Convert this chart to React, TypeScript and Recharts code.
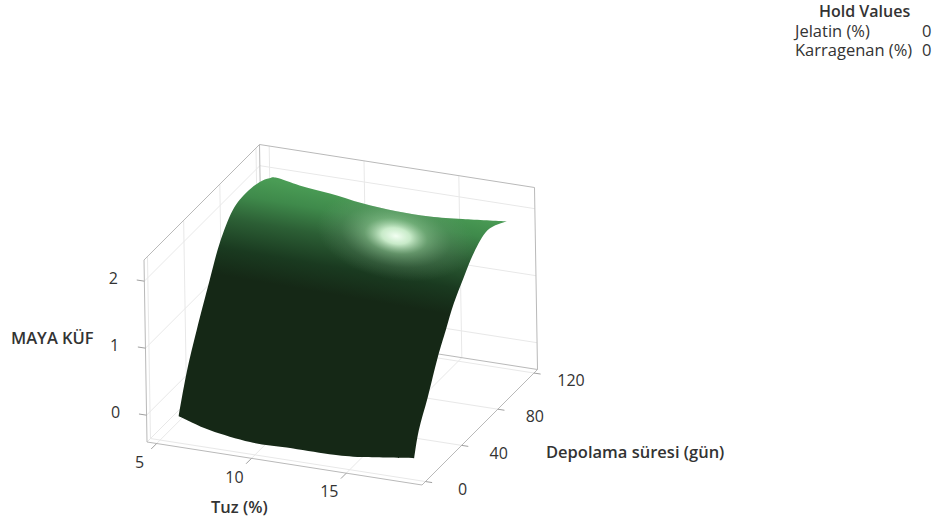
import { ScatterChart, Scatter, XAxis, YAxis } from "recharts";

// axis ticks
const tuzTicks = [5, 10, 15];
const dayTicks = [0, 40, 80, 120];
const zTicks = [0, 1, 2];

// box extents
const tuzRange = [4.49, 18.99];
const dayRange = [-3.83, 123.9];
const zRange = [-0.4, 2.316];

// surface outline (tuz, days, maya kuf)
const leftDays = [0, 9.6, 21.2, 36.2, 47.8, 62.5, 78, 92, 103, 111];
const leftZ = [0, 0.53, 1.0, 1.545, 1.94, 2.23, 2.29, 2.25, 2.16, 2.06];
const topTuz = [7.2, 8.8, 10.5, 12.3, 14.06, 15.8];
const topZ = [2.0, 1.95, 1.88, 1.84, 1.84, 1.88];
const rightDays = [111.5, 90.6, 75, 63.7, 52.3, 43.2, 34, 22.4, 12, 6.4];
const rightZ = [1.94, 2.09, 1.96, 1.75, 1.51, 1.24, 0.96, 0.52, 0.165, -0.177];
const frontTuz = [15.5, 13.8, 11.6, 9.7, 7.65];
const frontDays = [3.9, 2.8, 1.7, 1.1, 0];
const frontZ = [-0.242, -0.259, -0.243, -0.237, -0.137];

const edgeTuz = [6, 18.1];

const holdLabels = ["Jelatin (%)", "Karragenan (%)"];
const holdValues = [0, 0];

// fixed view of the box, nearly affine
function project(tuz: number, days: number, z: number) {
  const u = (tuz - tuzRange[0]) / (tuzRange[1] - tuzRange[0]);
  const v = (days - dayRange[0]) / (dayRange[1] - dayRange[0]);
  const w = (z - zRange[0]) / (zRange[1] - zRange[0]);
  return { x: 147 + 275 * u + 115.5 * v - 3 * w, y: 442 + 43 * u - 115.5 * v - 182 * w };
}

const [tMin, tMax] = tuzRange;
const [dMin, dMax] = dayRange;
const [zMin, zMax] = zRange;

const seg = (a: number[], b: number[]) => [project(a[0], a[1], a[2]), project(b[0], b[1], b[2])];

const gridLines = [
  ...zTicks.map((z) => seg([tMin, dMin, z], [tMin, dMax, z])),
  ...zTicks.map((z) => seg([tMin, dMax, z], [tMax, dMax, z])),
  ...dayTicks.map((d) => seg([tMin, d, zMin], [tMin, d, zMax])),
  ...tuzTicks.map((t) => seg([t, dMax, zMin], [t, dMax, zMax])),
  ...tuzTicks.map((t) => seg([t, dMin, zMin], [t, dMax, zMin])),
  ...dayTicks.map((d) => seg([tMin, d, zMin], [tMax, d, zMin])),
  seg([tMin, dMin, zMin], [tMin, dMax, zMin]),
];

const frameLines = [
  seg([tMin, dMin, zMin], [tMin, dMin, zMax]),
  seg([tMin, dMin, zMax], [tMin, dMax, zMax]),
  seg([tMin, dMax, zMax], [tMax, dMax, zMax]),
  seg([tMax, dMax, zMax], [tMax, dMax, zMin]),
  seg([tMin, dMax, zMax], [tMin, dMax, zMin]),
  seg([tMin, dMin, zMin], [tMax, dMin, zMin]),
  seg([tMax, dMin, zMin], [tMax, dMax, zMin]),
  seg([tMin, dMax, zMin], [tMax, dMax, zMin]),
];

const tickLines = [
  ...zTicks.map((z) => seg([tMin, dMin, z], [tMin - 0.4, dMin, z])),
  ...tuzTicks.map((t) => seg([t, dMin, zMin], [t, dMin - 6, zMin])),
  ...dayTicks.map((d) => seg([tMax, d, zMin], [tMax + 0.35, d, zMin])),
];

const leftEdge = leftDays.map((d, i) => project(edgeTuz[0], d, leftZ[i]));
const topEdge = topTuz.map((t, i) => project(t, 111, topZ[i]));
const rightEdge = rightDays.map((d, i) => project(edgeTuz[1], d, rightZ[i]));
const frontEdge = frontTuz.map((t, i) => project(t, frontDays[i], frontZ[i]));
const outline = [...leftEdge, ...topEdge, ...rightEdge, ...frontEdge];

// where the sharp corners of the outline sit: tip on the right, bottom right, and back to start
const cornerIdx = [leftEdge.length + topEdge.length, leftEdge.length + topEdge.length + rightEdge.length - 1];

const tickLabels = [
  ...zTicks.map((z) => ({ ...project(tMin, dMin, z), label: String(z), dx: -31, dy: -1 })),
  ...tuzTicks.map((t) => ({ ...project(t, dMin, zMin), label: String(t), dx: -17, dy: 20 })),
  ...dayTicks.map((d) => ({ ...project(tMax, d, zMin), label: String(d), dx: 37, dy: 9 })),
];

const noMark = () => <g />;
const tickText = (p: any) => (
  <text x={p.cx + p.payload.dx} y={p.cy + p.payload.dy} textAnchor="middle" dominantBaseline="middle" fontSize={16} fontFamily="'Open Sans'" fill="#333">
    {p.payload.label}
  </text>
);

// smooth the outline between its corners (catmull-rom through the read points)
function smoothPath(pts: { x: number; y: number }[]) {
  const runs = [pts.slice(0, cornerIdx[0] + 1), pts.slice(cornerIdx[0], cornerIdx[1] + 1), [...pts.slice(cornerIdx[1]), pts[0]]];
  let d = `M${pts[0].x},${pts[0].y}`;
  // first run starts at pts[0]; reorder so path walks start -> tip -> bottom right -> start
  runs.forEach((r) => {
    for (let i = 0; i < r.length - 1; i++) {
      const p0 = r[i - 1] ?? r[i];
      const p1 = r[i];
      const p2 = r[i + 1];
      const p3 = r[i + 2] ?? p2;
      d += `C${p1.x + (p2.x - p0.x) / 6},${p1.y + (p2.y - p0.y) / 6} ${p2.x - (p3.x - p1.x) / 6},${p2.y - (p3.y - p1.y) / 6} ${p2.x},${p2.y}`;
    }
  });
  return d + "Z";
}

const surfaceLine = (fill: string) => (props: any) => <path d={smoothPath(props.points)} fill={fill} stroke="none" />;

const titleStyle: React.CSSProperties = { position: "absolute", whiteSpace: "nowrap", fontFamily: "'Open Sans'", fontWeight: 600, fontSize: 16.5, color: "#333", lineHeight: "20px" };
const holdStyle: React.CSSProperties = { ...titleStyle, fontWeight: 400, fontSize: 16.5 };

export default function App() {
  return (
    <div style={{ position: "absolute", left: 0, top: 0, width: 939, height: 520, background: "#fff" }}>
      <ScatterChart width={939} height={520} margin={{ top: 0, right: 0, bottom: 0, left: 0 }}>
        <defs>
          <linearGradient id="surfaceFill" gradientUnits="userSpaceOnUse" x1={300} y1={185} x2={249} y2={481}>
            <stop offset="0" stopColor="#4a9c55" />
            <stop offset="0.067" stopColor="#3f8a4b" />
            <stop offset="0.15" stopColor="#2c5f35" />
            <stop offset="0.25" stopColor="#1a3a20" />
            <stop offset="0.34" stopColor="#152816" />
            <stop offset="1" stopColor="#152816" />
          </linearGradient>
          <radialGradient id="surfaceGlow" gradientUnits="userSpaceOnUse" cx={0} cy={0} r={1} gradientTransform="translate(396 236) rotate(10) scale(80 44)">
            <stop offset="0" stopColor="#f2fff2" stopOpacity={1} />
            <stop offset="0.18" stopColor="#d5f5d5" stopOpacity={0.92} />
            <stop offset="0.4" stopColor="#9ccc9f" stopOpacity={0.5} />
            <stop offset="0.7" stopColor="#7fa585" stopOpacity={0.18} />
            <stop offset="1" stopColor="#7fa585" stopOpacity={0} />
          </radialGradient>
        </defs>
        <XAxis type="number" dataKey="x" domain={[0, 939]} hide />
        <YAxis type="number" dataKey="y" domain={[0, 520]} reversed hide />
        {gridLines.map((d, i) => (
          <Scatter key={"g" + i} data={d} shape={noMark} line={{ stroke: "#e8e8e8", strokeWidth: 1 }} isAnimationActive={false} />
        ))}
        {frameLines.map((d, i) => (
          <Scatter key={"f" + i} data={d} shape={noMark} line={{ stroke: "#b9b9b9", strokeWidth: 1 }} isAnimationActive={false} />
        ))}
        {tickLines.map((d, i) => (
          <Scatter key={"t" + i} data={d} shape={noMark} line={{ stroke: "#a0a0a0", strokeWidth: 1 }} isAnimationActive={false} />
        ))}
        <Scatter data={outline} shape={noMark} line={surfaceLine("url(#surfaceFill)")} isAnimationActive={false} />
        <Scatter data={outline} shape={noMark} line={surfaceLine("url(#surfaceGlow)")} isAnimationActive={false} />
        <Scatter data={tickLabels} shape={tickText} isAnimationActive={false} />
      </ScatterChart>
      <div style={{ ...titleStyle, left: 11, top: 328 }}>MAYA KÜF</div>
      <div style={{ ...titleStyle, left: 211, top: 497 }}>Tuz (%)</div>
      <div style={{ ...titleStyle, left: 546, top: 442 }}>Depolama süresi (gün)</div>
      <div style={{ ...titleStyle, left: 819, top: 1, fontSize: 16 }}>Hold Values</div>
      {holdLabels.map((s, i) => (
        <div key={s}>
          <div style={{ ...holdStyle, left: 795, top: 21 + i * 19 }}>{s}</div>
          <div style={{ ...holdStyle, left: 922, top: 21 + i * 19 }}>{holdValues[i]}</div>
        </div>
      ))}
    </div>
  );
}
